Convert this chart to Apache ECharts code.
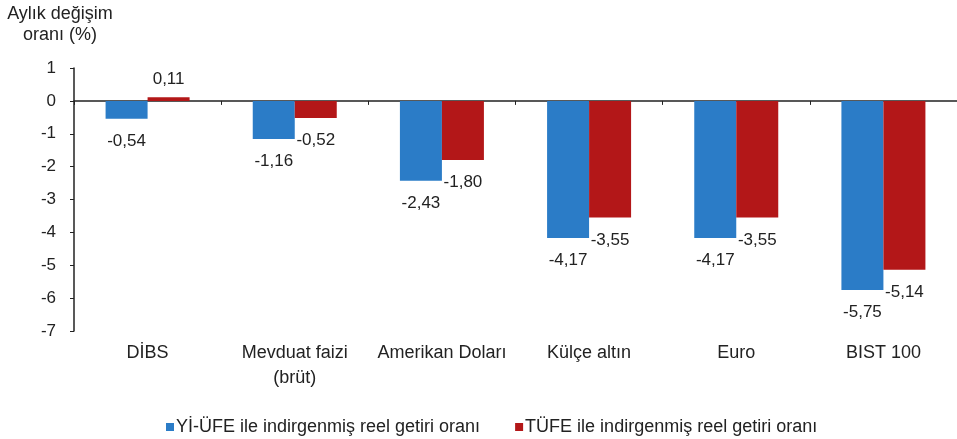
<!DOCTYPE html>
<html>
<head>
    <meta charset="utf-8"/>
    <style>
        html, body {
            height: 100%;
            margin: 0;
            padding: 0;
            background: #ffffff;
        }

        .container {
            width: 957px;
            height: 439px;
        }
    </style>
</head>
<body>
<div id="main" class="container"></div>
<script src="https://cdn.jsdelivr.net/npm/echarts@6/dist/echarts.min.js"></script>
<script type="text/javascript">
    // data
    var categories = ['DİBS', 'Mevduat faizi\n(brüt)', 'Amerikan Doları', 'Külçe altın', 'Euro', 'BIST 100'];
    var yiufe = [-0.54, -1.16, -2.43, -4.17, -4.17, -5.75];
    var tufe = [0.11, -0.52, -1.80, -3.55, -3.55, -5.14];
    var seriesNames = ['Yİ-ÜFE ile indirgenmiş reel getiri oranı', 'TÜFE ile indirgenmiş reel getiri oranı'];
    var yTicks = {min: -7, max: 1, interval: 1};

    var FONT = '"Liberation Sans", Arial, sans-serif';
    var TXT = '#222222';

    // label below the bar end for negative values, above for positive
    function withLabels(arr) {
        return arr.map(function (v) {
            return {
                value: v,
                label: v < 0 ? {position: 'bottom', distance: 14} : {position: 'top', distance: 9}
            };
        });
    }

    var labelStyle = {
        show: true,
        color: TXT,
        fontFamily: FONT,
        fontSize: 17,
        formatter: function (p) {
            return p.value.toFixed(2).replace('.', ',');
        }
    };

    var myChart = echarts.init(document.getElementById('main'));

    var option = {
        backgroundColor: '#ffffff',
        animation: false,
        textStyle: {fontFamily: FONT},
        // y axis title, top left
        graphic: [{
            type: 'text',
            x: 60,
            y: 4,
            style: {
                text: 'Aylık değişim\noranı (%)',
                fill: TXT,
                font: '18px ' + FONT,
                align: 'center',
                lineHeight: 21
            }
        }],
        legend: {
            left: 161,
            top: 413,
            itemWidth: 8,
            itemHeight: 8,
            itemGap: 35,
            icon: 'rect',
            selectedMode: false,
            textStyle: {color: TXT, fontSize: 18, fontFamily: FONT, padding: [0, 0, 0, -3]},
            data: seriesNames
        },
        grid: {
            left: 74,
            right: -6,
            top: 68,
            bottom: 108,
            containLabel: false
        },
        xAxis: [{
            // category labels at the bottom of the grid
            type: 'category',
            data: categories,
            axisLine: {show: false, onZero: false},
            axisTick: {show: false},
            axisLabel: {
                color: TXT,
                fontSize: 18,
                fontFamily: FONT,
                lineHeight: 25,
                margin: 10,
                interval: 0
            }
        }, {
            // axis line + ticks on zero
            type: 'category',
            data: categories,
            position: 'bottom',
            axisLine: {show: true, onZero: true, onZeroAxisIndex: 0, lineStyle: {color: '#222222', width: 1.5}},
            axisTick: {show: true, length: 4, lineStyle: {color: '#222222'}},
            axisLabel: {show: false}
        }],
        yAxis: [{
            type: 'value',
            min: yTicks.min,
            max: yTicks.max,
            interval: yTicks.interval,
            axisLine: {show: true, lineStyle: {color: '#222222', width: 1.5}},
            axisTick: {show: true, length: 4, lineStyle: {color: '#222222'}},
            splitLine: {show: false},
            axisLabel: {
                color: TXT,
                fontSize: 17,
                fontFamily: FONT,
                margin: 18
            }
        }],
        series: [{
            name: seriesNames[0],
            type: 'bar',
            xAxisIndex: 0,
            barWidth: 42,
            barGap: 0,
            itemStyle: {color: '#2b7cc7'},
            label: labelStyle,
            data: withLabels(yiufe)
        }, {
            name: seriesNames[1],
            type: 'bar',
            xAxisIndex: 0,
            barWidth: 42,
            barGap: 0,
            itemStyle: {color: '#b31718'},
            label: labelStyle,
            data: withLabels(tufe)
        }]
    };

    myChart.setOption(option);
</script>
</body>
</html>
